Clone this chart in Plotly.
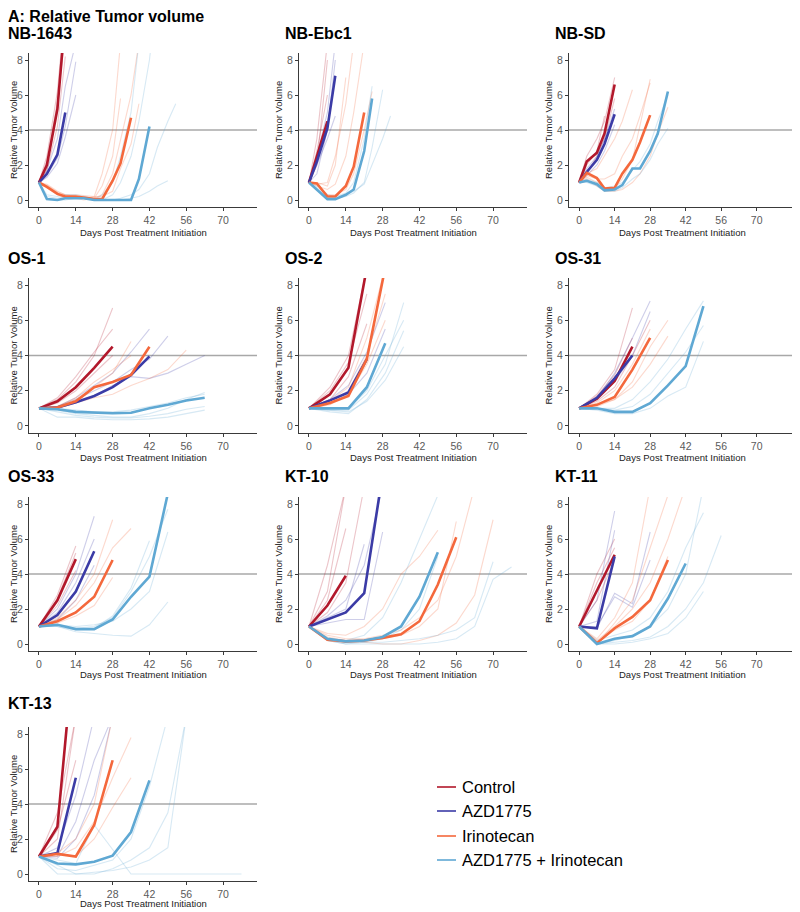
import plotly.graph_objects as go

W, H = 800, 912

GROUPS = ["Control", "AZD1775", "Irinotecan", "AZD1775 + Irinotecan"]
GROUP_RGB = ["178,24,43", "59,59,166", "244,104,60", "95,168,211"]
X_TICKS = [0, 14, 28, 42, 56, 70]
Y_TICKS = [0, 2, 4, 6, 8]
THRESHOLD = 4

# ---- data: relative tumour volume ----------------------------------------
# medians are listed Control, AZD1775, Irinotecan, AZD1775 + Irinotecan
# mice are (group index, values on the panel's day grid)

NB1643_DAYS = [0, 3, 7, 10, 14, 17, 21, 24, 28, 31, 35, 38, 42, 45, 49, 52]
NB1643_MEDIANS = [
    [1, 2.0, 5.2, 10.5],
    [1, 1.5, 2.6, 5.0],
    [1, 0.75, 0.35, 0.2, 0.2, 0.15, 0.05, 0.05, 1.1, 2.1, 4.7],
    [1, 0.05, 0.0, 0.1, 0.1, 0.1, 0.0, 0.0, 0.0, 0.0, 0.0, 1.2, 4.2],
]
NB1643_MICE = [
    (0, [1, 2.5, 6.2, 11.0]), (0, [1, 1.7, 4.2, 8.2]), (0, [1, 2.2, 5.6, 9.5]),
    (1, [1, 1.7, 3.5, 6.5, 9.0]), (1, [1, 1.4, 2.4, 4.2, 7.9]), (1, [1, 1.3, 2.1, 3.6, 6.0]),
    (2, [1, 0.8, 0.4, 0.2, 0.15, 0.1, 0.2, 1.5, 4.0, 9.0]),
    (2, [1, 0.9, 0.5, 0.3, 0.2, 0.2, 0.1, 0.3, 1.5, 3.5, 6.0, 9.0]),
    (2, [1, 0.7, 0.3, 0.1, 0.1, 0.0, 0.1, 0.8, 2.5, 5.8]),
    (2, [1, 0.85, 0.45, 0.3, 0.3, 0.25, 0.2, 0.2, 0.5, 1.8, 3.2, 5.5]),
    (3, [1, 0.1, 0.0, 0.1, 0.2, 0.1, 0.0, 0.0, 0.3, 1.0, 2.5, 4.5, 8.0, 12.0]),
    (3, [1, 0.2, 0.1, 0.2, 0.2, 0.1, 0.0, 0.0, 0.0, 0.1, 0.3, 0.6, 1.5, 3.0, 4.5, 5.5]),
    (3, [1, 0.3, 0.2, 0.3, 0.3, 0.2, 0.1, 0.0, 0.0, 0.0, 0.1, 0.2, 0.5, 0.8, 1.1]),
    (3, [1, 0.1, 0.0, 0.0, 0.1, 0.1, 0.0, 0.3, 1.0, 2.5, 5.0, 9.0]),
]

NBEBC1_DAYS = [0, 3, 7, 10, 14, 17, 21, 24, 28, 31]
NBEBC1_MEDIANS = [
    [1, 2.5, 4.5],
    [1, 2.2, 4.1, 7.1],
    [1, 0.95, 0.2, 0.2, 0.8, 1.9, 5.0],
    [1, 0.6, 0.05, 0.05, 0.3, 0.6, 2.8, 5.8],
]
NBEBC1_MICE = [
    (0, [1, 3.5, 9.0]), (0, [1, 2.0, 8.0]), (0, [1, 2.8, 6.0]),
    (1, [1, 2.5, 5.0, 9.0]), (1, [1, 2.0, 3.5, 4.8]), (1, [1, 1.5, 4.0, 8.0]),
    (2, [1, 0.9, 1.0, 2.5, 5.5, 9.0]), (2, [1, 0.8, 0.6, 0.9, 2.5, 5.0, 9.0]),
    (2, [1, 1.0, 0.8, 2.0, 7.0]), (2, [1, 0.9, 0.3, 0.3, 0.6, 1.5, 4.0, 6.2]),
    (3, [1, 0.7, 0.2, 0.2, 0.4, 1.0, 3.5, 6.5]),
    (3, [1, 0.6, 0.1, 0.1, 0.2, 0.4, 1.0, 3.0, 6.3]),
    (3, [1, 0.8, 0.3, 0.2, 0.3, 0.5, 0.9, 2.0, 3.5, 4.8]),
]

NBSD_DAYS = [0, 3, 7, 10, 14, 17, 21, 24, 28, 31, 35]
NBSD_MEDIANS = [
    [1, 2.2, 2.7, 3.8, 6.6],
    [1, 1.6, 2.3, 3.2, 4.9],
    [1, 1.55, 1.25, 0.65, 0.7, 1.5, 2.3, 3.3, 4.85],
    [1, 1.1, 0.9, 0.55, 0.6, 0.85, 1.8, 1.8, 2.8, 3.8, 6.2],
]
NBSD_MICE = [
    (0, [1, 2.0, 2.8, 4.8]), (0, [1, 2.5, 3.5, 4.5, 7.0]), (0, [1, 1.5, 2.5, 3.5, 5.8]),
    (1, [1, 1.8, 2.5, 3.5, 5.2]), (1, [1, 1.4, 2.0, 2.8, 4.3]),
    (2, [1, 1.5, 1.8, 2.5, 3.5, 4.5, 6.3]),
    (2, [1, 1.4, 1.2, 1.2, 1.5, 2.5, 3.5, 4.8, 6.7]),
    (2, [1, 1.3, 1.0, 0.6, 0.7, 1.2, 2.3, 4.2, 6.9]),
    (2, [1, 1.2, 0.8, 0.5, 0.5, 0.6, 1.0, 1.5, 2.5, 3.8, 5.3]),
    (3, [1, 1.0, 0.8, 0.5, 0.5, 0.7, 1.2, 1.5, 2.3, 3.2, 4.1]),
    (3, [1, 1.2, 1.0, 0.7, 0.8, 1.0, 1.7, 2.2, 3.2, 4.5, 6.0]),
]

OS1_DAYS = [0, 7, 14, 21, 28, 35, 42, 49, 56, 63]
OS1_MEDIANS = [
    [1, 1.4, 2.2, 3.3, 4.5],
    [1, 1.05, 1.35, 1.7, 2.2, 2.9, 3.95],
    [1, 1.05, 1.4, 2.2, 2.5, 2.9, 4.5],
    [1, 0.95, 0.8, 0.75, 0.72, 0.75, 1.0, 1.2, 1.45, 1.6],
]
OS1_MICE = [
    (0, [1, 1.5, 2.5, 4.0, 6.7]), (0, [1, 1.3, 2.0, 3.0, 4.0]), (0, [1, 1.6, 2.8, 4.2, 5.5]),
    (1, [1, 1.1, 1.5, 2.0, 2.5, 3.2, 3.8, 5.1]),
    (1, [1, 1.0, 1.3, 1.7, 2.3, 2.8, 2.7, 3.0, 3.5, 4.0]),
    (1, [1, 1.1, 1.6, 2.3, 3.0, 4.2, 5.5]),
    (2, [1, 1.1, 1.5, 2.2, 3.0, 4.8]),
    (2, [1, 1.0, 1.3, 1.6, 1.8, 2.3, 2.7, 3.2, 4.3]),
    (2, [1, 1.1, 1.6, 2.5, 3.2, 4.0]),
    (3, [1, 0.9, 0.7, 0.6, 0.5, 0.5, 0.7, 1.0, 1.5, 1.9]),
    (3, [1, 0.5, 0.5, 0.4, 0.35, 0.35, 0.4, 0.5, 0.7, 0.9]),
    (3, [1, 1.0, 0.9, 0.8, 0.8, 0.9, 1.1, 1.3, 1.6, 1.8]),
    (3, [1, 0.8, 0.6, 0.5, 0.45, 0.45, 0.55, 0.7, 0.95, 1.1]),
]

OS2_DAYS = [0, 8, 15, 22, 29, 36]
OS2_MEDIANS = [
    [1, 1.8, 3.3, 9.0],
    [1, 1.45, 1.9, 3.8],
    [1, 1.3, 1.7, 3.8, 9.0],
    [1, 1.0, 1.0, 2.2, 4.7],
]
OS2_MICE = [
    (0, [1, 2.2, 4.0, 9.0]), (0, [1, 1.5, 2.8, 5.8]), (0, [1, 2.0, 3.6, 7.5]),
    (1, [1, 1.3, 1.8, 3.0, 5.5]), (1, [1, 1.5, 2.3, 4.2, 7.0]),
    (2, [1, 1.3, 2.0, 4.0, 7.5]), (2, [1, 1.2, 1.8, 3.5, 6.0]), (2, [1, 1.4, 2.2, 5.0, 9.0]),
    (3, [1, 0.8, 0.7, 1.5, 3.0, 5.4]), (3, [1, 0.9, 0.9, 1.8, 3.5, 7.0]),
    (3, [1, 1.0, 1.0, 2.0, 4.0, 6.0]), (3, [1, 0.9, 0.8, 1.4, 2.6, 4.5]),
]

OS31_DAYS = [0, 7, 14, 21, 28, 35, 42, 49]
OS31_MEDIANS = [
    [1, 1.55, 2.55, 4.5],
    [1, 1.6, 2.7, 4.0],
    [1, 1.2, 1.65, 3.2, 5.0],
    [1, 1.0, 0.8, 0.8, 1.3, 2.3, 3.4, 6.8],
]
OS31_MICE = [
    (0, [1, 1.8, 3.2, 6.7]), (0, [1, 1.4, 2.2, 4.0, 6.0]), (0, [1, 1.7, 2.9, 5.0]),
    (1, [1, 1.6, 3.0, 5.0, 7.1]), (1, [1, 1.5, 2.5, 4.0, 6.5]),
    (2, [1, 1.3, 2.0, 3.5, 5.5]), (2, [1, 1.1, 1.5, 2.2, 3.5, 5.1]), (2, [1, 1.2, 1.5, 2.5, 4.5, 6.0]),
    (3, [1, 1.0, 0.9, 1.1, 1.8, 3.0, 4.2, 5.7]),
    (3, [1, 1.0, 1.0, 1.5, 2.5, 3.8, 5.5, 7.1]),
    (3, [1, 0.9, 0.7, 0.7, 1.0, 1.7, 2.2, 4.8]),
]

OS33_DAYS = [0, 7, 14, 21, 28, 35, 42, 49]
OS33_MEDIANS = [
    [1, 2.5, 4.85],
    [1, 1.65, 3.0, 5.3],
    [1, 1.3, 1.8, 2.7, 4.8],
    [1, 1.1, 0.85, 0.85, 1.4, 2.7, 3.85, 8.6],
]
OS33_MICE = [
    (0, [1, 2.8, 5.6]), (0, [1, 2.2, 4.2]), (0, [1, 2.6, 5.2]),
    (1, [1, 2.0, 4.0, 7.3]), (1, [1, 1.8, 3.5, 6.0]), (1, [1, 1.4, 2.5, 4.5]),
    (2, [1, 1.5, 2.5, 4.0, 7.1]), (2, [1, 1.4, 2.2, 3.5, 5.5, 6.6]), (2, [1, 1.2, 1.6, 2.2, 3.8]),
    (3, [1, 1.0, 0.7, 0.6, 0.5, 0.45, 1.1, 2.4]),
    (3, [1, 1.1, 0.9, 1.0, 1.5, 3.0, 5.0, 7.7]),
    (3, [1, 1.0, 0.8, 0.9, 1.6, 3.2, 5.9]),
    (3, [1, 1.1, 1.0, 1.1, 1.3, 2.0, 3.0, 6.4]),
]

KT10_DAYS = [0, 7, 14, 21, 28, 35, 42, 49, 56, 63, 70, 77]
KT10_MEDIANS = [
    [1, 2.2, 3.9],
    [1, 1.4, 1.8, 2.9, 9.7],
    [1, 0.25, 0.15, 0.2, 0.35, 0.55, 1.3, 3.4, 6.1],
    [1, 0.3, 0.15, 0.2, 0.4, 1.0, 2.7, 5.25],
]
KT10_MICE = [
    (0, [1, 2.5, 6.6]), (0, [1, 3.0, 9.0]), (0, [1, 1.8, 3.5, 9.0]), (0, [1, 4.5, 9.0]),
    (1, [1, 1.5, 2.0, 5.7]), (1, [1, 1.2, 1.4, 1.4, 6.4]), (1, [1, 1.6, 2.5, 4.5, 9.0]),
    (2, [1, 0.5, 0.3, 0.3, 0.5, 0.8, 1.5, 2.5, 5.0, 9.0]),
    (2, [1, 0.3, 0.1, 0.1, 0.0, 0.0, 0.2, 0.5, 1.2, 2.8, 7.1]),
    (2, [1, 0.4, 0.2, 0.2, 0.3, 0.5, 1.0, 2.0, 7.0]),
    (2, [1, 0.6, 0.5, 1.0, 2.0, 4.0, 5.0, 6.5]),
    (3, [1, 0.2, 0.0, 0.0, 0.0, 0.0, 0.0, 0.1, 0.3, 1.0, 3.7, 4.4]),
    (3, [1, 0.2, 0.0, 0.1, 0.3, 0.8, 2.0, 5.0]),
    (3, [1, 0.3, 0.2, 0.5, 1.5, 3.5, 6.0, 8.5]),
    (3, [1, 0.2, 0.1, 0.1, 0.1, 0.2, 0.3, 0.5, 0.8, 1.5, 4.7]),
]

KT11_DAYS = [0, 7, 14, 21, 28, 35, 42, 49, 56]
KT11_MEDIANS = [
    [1, 3.05, 5.1],
    [1, 0.9, 5.0],
    [1, 0.05, 0.9, 1.55, 2.5, 4.8],
    [1, 0.0, 0.3, 0.45, 1.0, 2.6, 4.6],
]
KT11_MICE = [
    (0, [1, 4.0, 6.0]), (0, [1, 3.5, 5.5]), (0, [1, 2.5, 4.8]),
    (1, [1, 2.5, 7.6]), (1, [1, 1.3, 6.5]), (1, [1, 0.9, 2.9, 2.3, 6.4]), (1, [1, 1.0, 2.7, 2.1, 4.8]),
    (2, [1, 0.3, 1.5, 3.5, 9.0]), (2, [1, 0.2, 1.0, 2.0, 3.5, 6.0, 9.0]),
    (2, [1, 0.0, 1.2, 2.5, 5.5, 8.5]), (2, [1, 0.1, 0.8, 1.3, 2.5, 5.0]),
    (3, [1, 0.0, 0.2, 0.5, 1.0, 2.0, 4.0, 9.0]),
    (3, [1, 0.0, 0.1, 0.2, 0.4, 1.0, 2.0, 3.5, 6.2]),
    (3, [1, 0.2, 0.5, 0.8, 1.5, 3.0, 5.5, 7.5]),
    (3, [1, 0.0, 0.0, 0.1, 0.3, 0.6, 1.5, 3.0]),
]

KT13_DAYS = [0, 7, 14, 21, 28, 35, 42, 49, 56, 63, 70, 77]
KT13_MEDIANS = [
    [1, 2.7, 14.0],
    [1, 1.2, 5.5],
    [1, 1.15, 1.0, 2.8, 6.5],
    [1, 0.6, 0.55, 0.7, 1.05, 2.4, 5.35],
]
KT13_MICE = [
    (0, [1, 3.5, 9.0]), (0, [1, 2.0, 9.0]), (0, [1, 2.5, 6.5]),
    (1, [1, 1.5, 4.5, 9.0]), (1, [1, 1.0, 3.0, 6.5, 9.0]), (1, [1, 0.9, 2.0, 4.5, 9.0]),
    (2, [1, 1.2, 2.0, 4.0, 9.0]), (2, [1, 1.0, 1.5, 3.0, 5.5, 7.8]), (2, [1, 1.2, 1.0, 2.0, 3.8, 5.5]),
    (3, [1, 0.8, 0.6, 2.8, 1.4, 0.0, 0.0, 0.0, 0.0, 0.0, 0.0, 0.0]),
    (3, [1, 0.5, 0.0, 0.0, 0.3, 0.8, 1.5, 3.5, 9.0]),
    (3, [1, 0.3, 0.2, 0.5, 0.8, 2.0, 5.0, 9.0]),
    (3, [1, 0.0, 0.0, 0.1, 0.2, 0.4, 0.8, 1.5, 9.0]),
]

PANELS = [
    ("NB-1643", NB1643_DAYS, NB1643_MEDIANS, NB1643_MICE),
    ("NB-Ebc1", NBEBC1_DAYS, NBEBC1_MEDIANS, NBEBC1_MICE),
    ("NB-SD", NBSD_DAYS, NBSD_MEDIANS, NBSD_MICE),
    ("OS-1", OS1_DAYS, OS1_MEDIANS, OS1_MICE),
    ("OS-2", OS2_DAYS, OS2_MEDIANS, OS2_MICE),
    ("OS-31", OS31_DAYS, OS31_MEDIANS, OS31_MICE),
    ("OS-33", OS33_DAYS, OS33_MEDIANS, OS33_MICE),
    ("KT-10", KT10_DAYS, KT10_MEDIANS, KT10_MICE),
    ("KT-11", KT11_DAYS, KT11_MEDIANS, KT11_MICE),
    ("KT-13", KT13_DAYS, KT13_MEDIANS, KT13_MICE),
]

# ---- layout, in page pixels (the page body adds an 8px margin) -----------
OFF = 8
COL_X = [(29, 257), (299, 527), (569, 796)]
COL_RANGE = [(-3.8, 82.9), (-3.8, 82.9), (-4.0, 85.5)]
ROW_Y = [(53, 207), (278, 433), (497, 651), (727, 881)]
TITLE_X = [6, 283, 553]
TITLE_Y = [33, 258, 477, 703]
XTITLE_Y = [232, 457, 674, 903]
YTITLE_DX = [16, 21, 21]
FONT = "Liberation Sans, Arial, sans-serif"


def px(p):
    return (p - OFF) / W


def py(p):
    return 1 - (p - OFF) / H


fig = go.Figure()
shapes = []
annotations = []

for i, (name, days, medians, mice) in enumerate(PANELS):
    r, c = divmod(i, 3)
    k = "" if i == 0 else str(i + 1)
    xa, ya = "x" + k, "y" + k

    # individual mice, faint
    for g, vals in mice:
        fig.add_trace(go.Scatter(
            x=days[:len(vals)], y=vals, mode="lines",
            line=dict(color="rgba(%s,0.25)" % GROUP_RGB[g], width=1.1),
            xaxis=xa, yaxis=ya, showlegend=False, hoverinfo="skip"))
    # group medians, bold
    for g, vals in enumerate(medians):
        fig.add_trace(go.Scatter(
            x=days[:len(vals)], y=vals, mode="lines", name=GROUPS[g],
            line=dict(color="rgb(%s)" % GROUP_RGB[g], width=2.6),
            xaxis=xa, yaxis=ya, showlegend=False))

    axis_common = dict(showline=True, linecolor="#3a3a3a", linewidth=1.3,
                       ticks="outside", ticklen=3, tickcolor="#3a3a3a",
                       tickfont=dict(size=10.5, color="#5a5a5a", family=FONT),
                       showgrid=False, zeroline=False, fixedrange=True)
    fig.layout["xaxis" + k] = dict(
        domain=[px(COL_X[c][0]), px(COL_X[c][1])], anchor=ya,
        range=list(COL_RANGE[c]), tickvals=X_TICKS, **axis_common)
    fig.layout["yaxis" + k] = dict(
        domain=[py(ROW_Y[r][1]), py(ROW_Y[r][0])], anchor=xa,
        range=[-0.4, 8.4], tickvals=Y_TICKS, **axis_common)

    shapes.append(dict(type="line", xref=xa + " domain", x0=0, x1=1,
                       yref=ya, y0=THRESHOLD, y1=THRESHOLD, layer="below",
                       line=dict(color="#a8a8a8", width=1.4)))

    annotations.append(dict(x=px(TITLE_X[c]), y=py(TITLE_Y[r]), xref="paper", yref="paper",
                            text="<b>%s</b>" % name, showarrow=False,
                            xanchor="left", yanchor="middle",
                            font=dict(size=16, color="black", family=FONT)))
    annotations.append(dict(x=px((COL_X[c][0] + COL_X[c][1]) / 2), y=py(XTITLE_Y[r]),
                            xref="paper", yref="paper", text="Days Post Treatment Initiation",
                            showarrow=False, xanchor="center", yanchor="middle",
                            font=dict(size=9.5, color="#222", family=FONT)))
    annotations.append(dict(x=px(COL_X[c][0] - YTITLE_DX[c]),
                            y=py((ROW_Y[r][0] + ROW_Y[r][1]) / 2),
                            xref="paper", yref="paper", text="Relative Tumor Volume",
                            showarrow=False, textangle=-90, xanchor="center", yanchor="middle",
                            font=dict(size=9.5, color="#222", family=FONT)))

# main title
annotations.append(dict(x=px(6), y=py(16), xref="paper", yref="paper",
                        text="<b>A: Relative Tumor volume</b>", showarrow=False,
                        xanchor="left", yanchor="middle",
                        font=dict(size=16, color="black", family=FONT)))

# legend, drawn by hand to match the short key lines
LEGEND_Y = [787, 811, 836, 860]
for g, name in enumerate(GROUPS):
    shapes.append(dict(type="line", xref="paper", yref="paper",
                       x0=px(437), x1=px(456), y0=py(LEGEND_Y[g]), y1=py(LEGEND_Y[g]),
                       line=dict(color="rgba(%s,0.8)" % GROUP_RGB[g], width=2)))
    annotations.append(dict(x=px(460), y=py(LEGEND_Y[g]), xref="paper", yref="paper",
                            text=name, showarrow=False, xanchor="left", yanchor="middle",
                            font=dict(size=16.5, color="black", family=FONT)))

fig.update_layout(width=W, height=H, margin=dict(l=0, r=0, t=0, b=0),
                  plot_bgcolor="white", paper_bgcolor="white",
                  shapes=shapes, annotations=annotations, showlegend=False,
                  font=dict(family=FONT))

fig.write_html("out.html")
